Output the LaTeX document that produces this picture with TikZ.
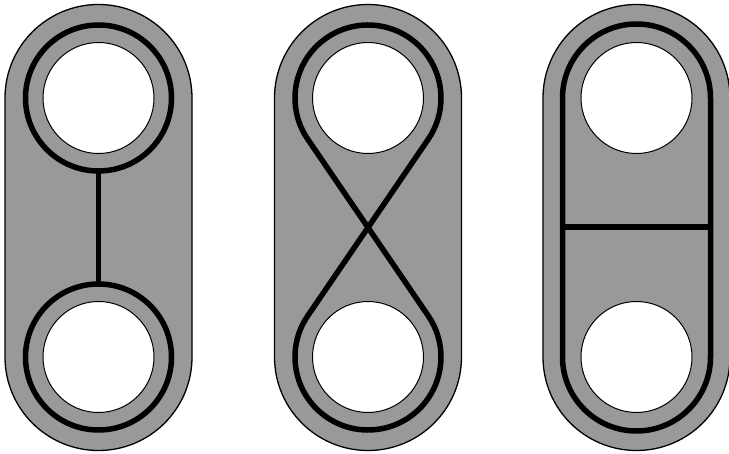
\documentclass[tikz,border=0pt]{standalone}
\usetikzlibrary{calc}
\definecolor{platefill}{RGB}{153,153,153}
\tikzset{
  plate/.style={fill=platefill, draw=black, line width=1.3pt},
  hole/.style={fill=white, draw=black, line width=1pt},
  wire/.style={draw=black, line width=5.5pt, line join=round},
}
\newcommand{\plateshape}[1]{%
  \path[plate] (#1-93.5,96) -- (#1-93.5,355) arc[start angle=180, end angle=0, radius=93.5]
    -- (#1+93.5,96) arc[start angle=0, end angle=-180, radius=93.5] -- cycle;}
\newcommand{\holes}[1]{%
  \path[hole] (#1,355) circle[radius=55.5];
  \path[hole] (#1,96) circle[radius=55.5];}
\begin{document}
\begin{tikzpicture}[x=1pt,y=1pt]
\useasboundingbox[fill=white] (0,0) rectangle (729,453);
% ---------- left plate ----------
\plateshape{98.5}
\holes{98.5}
\coordinate (T1) at (98.5,355);
\coordinate (B1) at (98.5,96);
\draw[wire] (T1) circle[radius=73];
\draw[wire] (B1) circle[radius=73];
\draw[wire] ($(T1)+(0,-73)$) -- ($(B1)+(0,73)$);
% ---------- middle plate ----------
\plateshape{368}
\holes{368}
\coordinate (T2) at (368,355);
\coordinate (B2) at (368,96);
\draw[wire] ($(T2)+(214.31:73)$) arc[start angle=214.31, end angle=-34.31, radius=73]
  -- ($(B2)+(145.69:73)$) arc[start angle=145.69, end angle=394.31, radius=73]
  -- cycle;
% ---------- right plate ----------
\plateshape{636.5}
\holes{636.5}
\coordinate (T3) at (636.5,355);
\coordinate (B3) at (636.5,96);
\draw[wire] ($(B3)+(-74,0)$) -- ($(T3)+(-74,0)$) arc[start angle=180, end angle=0, radius=74]
  -- ($(B3)+(74,0)$) arc[start angle=0, end angle=-180, radius=74] -- cycle;
\coordinate (L3) at (562.5,226);
\coordinate (R3) at (710.5,226);
\draw[wire] (L3) -- (R3);
\end{tikzpicture}
\end{document}
